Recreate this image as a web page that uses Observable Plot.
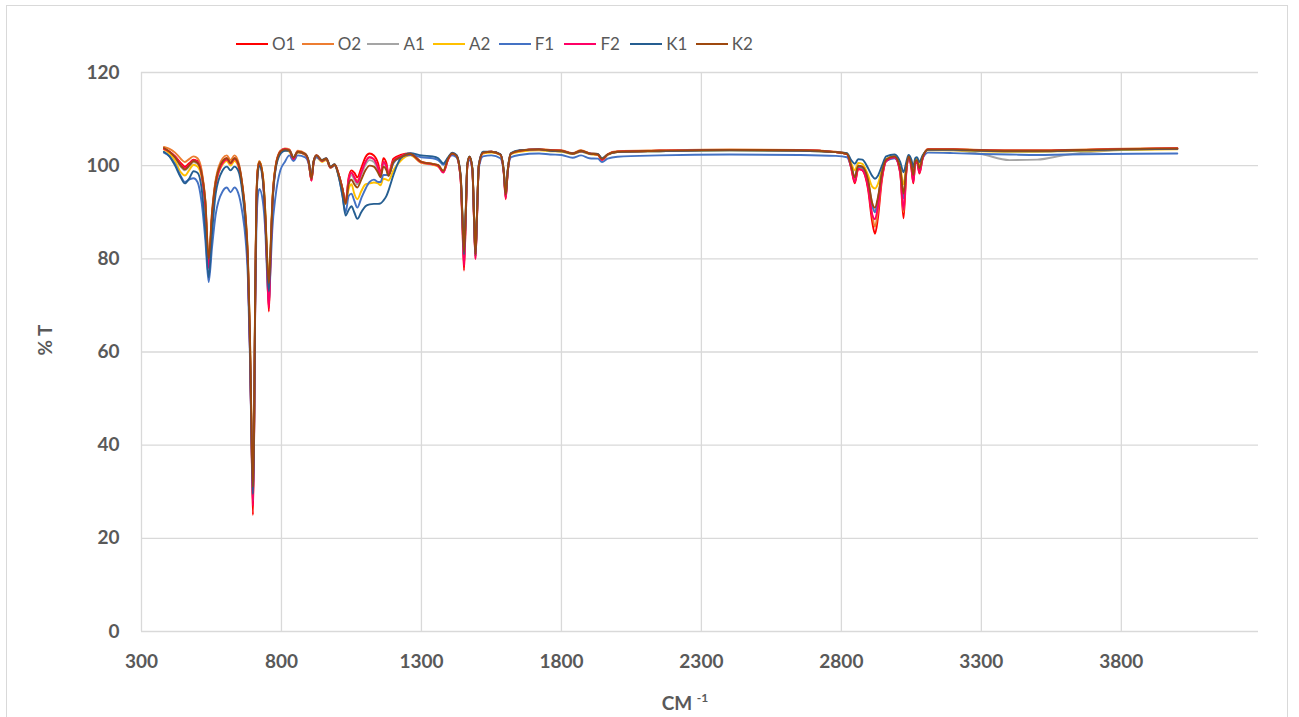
<!DOCTYPE html>
<html><head><meta charset="utf-8">
<script src="https://cdn.jsdelivr.net/npm/d3@7"></script>
<script src="https://cdn.jsdelivr.net/npm/@observablehq/plot@0.6"></script>
<style>
body{margin:0;background:#fff;font-family:Lato,"Open Sans",sans-serif;color:#595959;width:1299px;height:717px;overflow:hidden;position:relative}
#frame{position:absolute;left:6px;top:5px;width:1282px;height:740px;border:1px solid #d9d9d9;box-sizing:border-box;pointer-events:none}
#legend{height:60px;position:relative}
#legend .inner{position:absolute;left:236px;top:34px;display:flex;align-items:center}
#legend .item{display:flex;align-items:center;gap:4px;font-size:17px;line-height:20px;width:65.7px;white-space:nowrap}
#legend .sw{width:32px;height:2.5px;flex:none}
#chart{position:relative}
</style></head><body>
<div id="frame"></div>
<div id="legend"><div class="inner"></div></div>
<div id="chart"></div>
<script>
const names = ["O1","O2","A1","A2","F1","F2","K1","K2"];
const colors = ["#ff0000","#ed7d31","#a5a5a5","#ffc000","#4472c4","#ff0066","#255e91","#9e480e"];
const xTicks = [300,800,1300,1800,2300,2800,3300,3800];
const yTicks = [0,20,40,60,80,100,120];

const wavenumber = [380,400,420,440,455,470,486,500,515,528,540,552,565,590,605,618,632,645,660,672,680,687,693,698,702,706,710,715,721,733,743,749,755,761,767,779,796,812,828,843,858,885,898,907,915,925,945,960,975,990,1005,1018,1029,1040,1050,1060,1071,1085,1100,1115,1130,1145,1154,1164,1175,1182,1200,1225,1260,1300,1340,1360,1378,1395,1410,1425,1440,1446,1452,1458,1464,1472,1482,1488,1493,1498,1505,1520,1550,1582,1594,1601,1608,1620,1650,1720,1760,1800,1840,1870,1900,1930,1945,1965,2000,2150,2400,2650,2780,2820,2835,2848,2860,2875,2895,2910,2920,2930,2945,2960,2990,3010,3022,3032,3040,3050,3057,3064,3070,3079,3090,3110,3200,3300,3400,3500,3600,3750,4000];

const O1 = [103.6,103.0,102.0,100.6,99.8,100.5,101.3,101.0,98.5,92.0,78.5,89.0,96.5,100.8,101.6,100.6,101.6,100.5,95.5,88.0,79.0,62.0,41.0,25.0,40.0,70.0,90.0,98.8,100.8,97.5,87.5,77.5,68.7,80.0,91.0,99.6,103.0,103.6,103.4,101.5,103.0,102.4,100.5,96.8,100.8,102.2,101.0,101.5,99.6,100.2,98.0,95.0,92.0,97.5,99.0,98.5,97.5,99.5,101.8,102.6,102.2,100.5,98.3,101.6,100.5,98.3,101.5,102.3,102.6,100.8,100.3,100.0,98.6,101.3,102.6,102.2,97.0,88.0,77.5,88.0,100.0,101.8,99.0,88.0,80.0,88.0,100.0,102.8,103.0,102.4,98.5,92.8,98.5,102.6,103.2,103.5,103.3,103.2,102.6,103.2,102.6,102.4,101.2,102.4,103.0,103.2,103.4,103.3,102.9,102.5,99.5,96.2,99.3,99.0,95.0,88.0,85.4,88.5,97.0,101.0,101.8,98.5,88.7,98.5,102.0,99.5,96.2,100.5,100.8,98.3,101.5,103.5,103.5,103.3,103.2,103.2,103.3,103.5,103.7];
const O2 = [104.0,103.6,102.8,101.5,100.8,101.4,102.0,101.6,99.0,92.5,79.5,90.0,97.0,101.6,102.2,101.2,102.2,101.0,96.0,89.0,80.0,64.0,43.0,28.0,42.0,71.0,90.5,99.2,101.0,98.0,88.5,79.0,72.0,81.0,91.5,100.0,103.2,103.7,103.5,101.8,103.2,102.6,100.5,97.0,101.0,102.3,101.2,101.6,99.8,100.3,98.0,95.0,92.2,97.0,98.5,97.5,96.8,98.5,100.8,101.8,101.4,99.5,97.8,100.8,99.8,98.0,101.0,102.0,102.5,100.8,100.4,100.1,98.8,101.5,102.7,102.2,97.5,89.0,80.0,89.0,100.2,101.9,99.2,88.5,80.5,88.5,100.0,102.8,103.0,102.4,98.8,93.5,98.8,102.6,103.2,103.6,103.4,103.3,102.7,103.3,102.7,102.5,101.4,102.5,103.1,103.3,103.5,103.4,103.0,102.6,100.0,97.0,99.6,99.4,96.0,89.5,86.9,90.0,97.5,101.2,102.0,99.0,90.0,99.0,102.1,100.0,97.0,100.8,101.0,98.8,101.6,103.6,103.6,103.4,103.3,103.3,103.4,103.6,103.8];
const A1 = [103.6,102.8,101.6,99.8,99.0,99.8,100.8,100.4,97.8,91.0,78.0,88.5,96.0,100.4,101.2,100.3,101.2,100.2,95.5,88.0,79.5,63.0,42.0,28.5,42.0,71.0,90.0,98.8,100.5,97.5,88.0,78.5,72.5,81.0,91.0,99.5,102.8,103.4,103.2,101.6,102.9,102.3,100.5,97.0,100.8,102.0,101.0,101.4,99.6,100.1,97.8,94.8,92.0,96.5,98.0,97.0,96.0,98.0,100.2,101.2,100.8,99.0,97.5,100.5,99.5,97.8,100.8,101.8,102.4,100.6,100.2,100.0,98.8,101.4,102.6,102.1,97.5,89.0,80.0,89.0,100.2,101.8,99.2,88.5,80.5,88.5,100.0,102.7,102.9,102.3,98.8,93.5,98.8,102.5,103.1,103.4,103.2,103.1,102.5,103.0,102.5,102.4,101.3,102.3,102.9,103.1,103.3,103.2,102.9,102.5,100.2,97.5,100.0,99.8,97.0,92.0,90.0,92.5,98.5,101.3,102.0,99.5,93.0,99.5,102.0,100.3,98.0,101.0,101.2,99.5,101.8,103.4,103.3,102.5,101.2,101.3,102.3,103.2,103.6];
const A2 = [103.5,102.6,101.0,98.6,97.9,99.0,100.2,99.8,97.5,91.0,78.5,89.0,96.0,100.3,101.0,100.0,101.0,100.0,95.5,88.5,80.0,64.0,43.0,29.5,43.0,72.0,91.0,99.0,100.8,98.0,89.0,80.0,76.0,82.5,92.0,99.8,102.8,103.3,103.0,101.5,102.8,102.3,100.3,97.0,100.7,101.8,100.8,101.2,99.5,100.0,97.6,94.5,91.8,95.0,96.0,94.0,92.8,94.5,96.0,96.2,96.4,96.2,95.8,97.2,97.0,96.8,99.0,101.0,102.2,100.6,100.2,99.8,98.8,101.4,102.5,102.0,97.5,89.5,81.0,89.5,100.2,101.8,99.2,89.0,81.0,89.0,100.0,102.6,102.8,102.3,98.8,93.8,98.8,102.5,103.0,103.3,103.1,103.0,102.5,103.0,102.5,102.3,101.2,102.3,102.9,103.1,103.3,103.2,102.9,102.5,100.5,99.0,100.6,100.4,98.0,95.5,95.1,96.0,99.2,101.4,102.0,99.8,96.0,100.0,102.0,100.8,99.0,101.3,101.5,100.0,102.0,103.3,103.3,103.1,103.0,103.0,103.1,103.3,103.5];
const F1 = [102.8,102.0,100.3,97.8,96.5,97.0,97.3,96.5,92.0,84.0,75.0,82.5,89.5,94.5,95.3,94.3,95.3,94.2,90.0,84.0,76.0,60.0,41.0,28.0,41.0,69.0,85.0,93.0,95.0,92.5,85.0,76.0,70.5,78.0,86.0,93.5,99.0,100.8,102.2,101.0,102.2,101.8,100.2,97.3,100.7,101.8,101.0,101.4,99.6,100.0,97.5,93.5,90.0,93.5,94.0,92.5,91.0,93.0,95.0,96.5,97.0,96.5,96.5,98.0,98.0,98.0,100.5,101.8,102.3,101.8,101.6,101.2,100.2,101.6,102.2,101.8,97.5,89.0,80.0,89.0,100.0,101.2,98.8,88.5,80.5,88.5,99.5,102.0,102.2,101.6,98.5,93.5,98.5,101.8,102.3,102.6,102.4,102.3,101.7,102.2,101.6,101.5,100.8,101.5,101.9,102.2,102.4,102.3,102.1,101.8,99.8,97.5,99.8,99.6,96.5,91.5,90.0,92.5,98.5,101.0,101.6,99.3,93.0,99.3,101.6,100.2,98.0,100.8,101.0,99.3,101.5,102.8,102.7,102.5,102.4,102.3,102.4,102.5,102.6];
const F2 = [103.6,103.0,102.0,100.3,99.5,100.2,101.2,100.8,98.0,91.0,78.0,89.0,96.0,100.6,101.3,100.5,101.4,100.3,95.5,88.0,79.0,62.0,41.5,27.0,40.5,70.0,90.0,98.8,100.6,97.5,87.5,77.5,69.5,80.0,91.0,99.6,103.0,103.6,103.3,101.4,103.0,102.4,100.5,96.8,100.8,102.2,101.0,101.5,99.6,100.2,98.0,95.0,92.0,97.0,98.5,97.5,96.4,98.5,100.8,101.8,101.4,99.5,97.8,100.8,99.8,98.0,101.0,102.0,102.5,100.7,100.3,99.9,98.5,101.3,102.6,102.2,97.0,88.0,78.5,88.0,100.0,101.8,99.0,88.0,80.0,88.0,100.0,102.8,103.0,102.4,98.5,93.0,98.5,102.6,103.2,103.5,103.3,103.2,102.6,103.1,102.6,102.4,101.2,102.4,103.0,103.2,103.4,103.3,102.9,102.5,99.5,96.5,99.3,99.0,95.5,89.5,88.5,91.0,97.5,101.0,101.8,98.5,90.5,98.8,102.0,99.6,96.5,100.5,100.8,98.5,101.5,103.5,103.5,103.3,103.2,103.2,103.3,103.5,103.7];
const K1 = [103.0,102.0,100.0,97.5,96.2,97.2,98.8,98.5,95.0,86.0,76.0,85.5,94.0,99.0,99.8,99.0,99.8,99.0,94.5,87.0,78.5,62.0,42.0,29.5,42.0,71.0,89.5,98.0,100.0,97.0,87.5,78.5,73.0,81.0,90.5,99.2,102.5,103.2,103.2,101.8,102.9,102.5,100.8,97.5,101.0,102.2,101.2,101.6,99.8,100.3,97.5,93.5,89.3,90.5,91.3,90.0,88.6,90.0,91.3,91.7,91.8,91.8,91.9,92.5,93.5,94.6,98.0,101.5,102.7,102.2,102.0,101.6,100.5,101.8,102.8,102.3,98.0,90.0,81.0,90.0,100.5,102.0,99.5,89.0,81.0,89.0,100.3,103.0,103.0,102.5,99.0,94.0,99.0,102.7,103.3,103.5,103.2,103.1,102.6,103.1,102.6,102.5,101.6,102.4,102.9,103.1,103.3,103.2,102.9,102.7,101.2,100.4,101.4,101.3,99.5,97.8,97.2,97.8,100.0,102.0,102.4,100.8,98.6,100.8,102.3,101.3,99.7,101.6,101.8,100.8,102.2,103.4,103.4,103.2,103.1,103.1,103.2,103.4,103.6];
const K2 = [103.8,103.0,101.8,100.0,99.2,100.0,101.0,100.6,98.2,92.5,80.0,90.0,96.5,101.0,101.6,100.6,101.6,100.6,96.0,89.0,80.5,65.0,44.0,31.0,44.0,72.5,91.0,99.0,100.8,98.0,89.0,80.0,74.8,82.0,91.5,99.8,103.0,103.5,103.3,101.7,103.0,102.5,100.6,97.2,101.0,102.2,101.1,101.5,99.7,100.2,98.0,95.0,91.8,96.0,97.0,96.0,95.3,97.0,99.0,100.0,99.8,98.5,97.5,99.8,99.0,97.8,100.8,101.8,102.5,100.8,100.4,100.1,98.9,101.5,102.6,102.1,97.8,89.5,81.5,89.5,100.3,101.9,99.3,89.0,81.0,89.0,100.0,102.8,103.0,102.4,98.8,93.8,98.8,102.6,103.2,103.5,103.3,103.2,102.6,103.2,102.6,102.4,101.4,102.4,103.0,103.2,103.4,103.3,102.9,102.5,100.0,97.5,100.0,99.8,97.0,92.0,91.0,93.0,98.5,101.3,102.0,99.5,94.0,99.5,102.0,100.3,98.0,101.0,101.2,99.5,101.8,103.5,103.5,103.3,103.2,103.2,103.3,103.5,103.7];

const seriesValues = [O1,O2,A1,A2,F1,F2,K1,K2];

// legend
const inner = document.querySelector("#legend .inner");
names.forEach((n,i)=>{
  const it = document.createElement("div"); it.className="item";
  const sw = document.createElement("div"); sw.className="sw"; sw.style.background=colors[i];
  const tx = document.createElement("span"); tx.textContent=n;
  it.appendChild(sw); it.appendChild(tx); inner.appendChild(it);
});

const data = [];
names.forEach((n,s)=>{
  wavenumber.forEach((w,i)=>data.push({name:n, wn:w, v:seriesValues[s][i]}));
});

const chart = Plot.plot({
  width: 1299, height: 657,
  marginLeft: 141, marginRight: 41, marginTop: 12, marginBottom: 86,
  style: {fontFamily: "Lato, 'Open Sans', sans-serif", fontSize: "19px", fontWeight: "bold", color: "#595959", background: "transparent"},
  x: {domain: [300, 4290]},
  y: {domain: [0, 120]},
  color: {domain: names, range: colors},
  marks: [
    Plot.ruleY(yTicks, {y: d=>d, stroke: "#d9d9d9", strokeWidth: 1.3, strokeOpacity: 1}),
    Plot.ruleX(xTicks, {x: d=>d, stroke: "#d9d9d9", strokeWidth: 1.3, strokeOpacity: 1}),
    Plot.axisX({ticks: xTicks, tickFormat: d=>String(d), tickSize: 0, tickPadding: 23, label: null}),
    Plot.axisY({ticks: yTicks, tickFormat: d=>String(d), tickSize: 0, tickPadding: 22, label: null}),
    Plot.line(data, {x: "wn", y: "v", z: "name", stroke: "name", strokeWidth: 1.9, curve: "monotone-x"})
  ]
});

const svg = d3.select(chart);
svg.append("text")
  .attr("transform", "translate(47,280) rotate(-90)")
  .attr("text-anchor", "middle").attr("dominant-baseline", "middle")
  .attr("fill", "#595959").attr("font-size", 19).attr("font-weight", "bold")
  .text("% T");
const xl = svg.append("text")
  .attr("x", 685).attr("y", 650)
  .attr("text-anchor", "middle")
  .attr("fill", "#595959").attr("font-size", 19).attr("font-weight", "bold");
xl.append("tspan").text("CM ");
xl.append("tspan").attr("font-size", 12).attr("dy", -8).text("-1");

document.getElementById("chart").appendChild(chart);
</script>
</body></html>
